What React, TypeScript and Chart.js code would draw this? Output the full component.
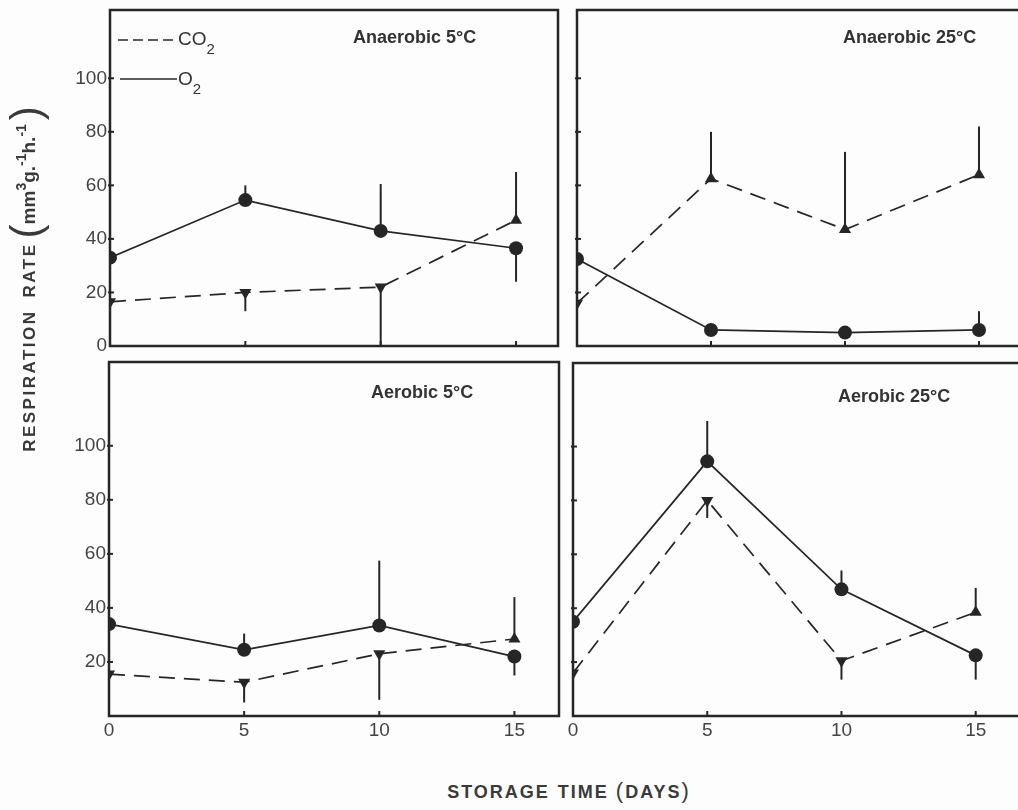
import React, { useEffect, useRef } from "react";
import { Chart, registerables } from "chart.js";

Chart.register(...registerables);

// ---------------- data ----------------
const days = [0, 5, 10, 15];
const xTickValues = [0, 5, 10, 15];
const yTickValuesTop = [0, 20, 40, 60, 80, 100];
const yTickValuesBottom = [20, 40, 60, 80, 100];

const anaerobic5O2 = [33, 54.5, 43, 36.5];
const anaerobic5O2Err = [41, 60, 60.5, 24];
const anaerobic5CO2 = [16.5, 20, 22, 47];
const anaerobic5CO2Err = [6, 13, 0, 65];

const anaerobic25O2 = [32.5, 6, 5, 6];
const anaerobic25O2Err = [38, null, null, 13];
const anaerobic25CO2 = [16, 62.5, 43.5, 64];
const anaerobic25CO2Err = [11, 80, 72.5, 82];

const aerobic5O2 = [34, 24.5, 33.5, 22];
const aerobic5O2Err = [39, 30.5, 57.5, 15];
const aerobic5CO2 = [15.5, 12.5, 23, 28.5];
const aerobic5CO2Err = [7, 5, 6, 44];

const aerobic25O2 = [35, 94.5, 47, 22.5];
const aerobic25O2Err = [40, 109.5, 54, 13.5];
const aerobic25CO2 = [16, 80, 20.5, 38.5];
const aerobic25CO2Err = [7, 73.5, 13.5, 47.5];

const panelTitles = ["Anaerobic 5°C", "Anaerobic 25°C", "Aerobic 5°C", "Aerobic 25°C"];

// ---------------- style ----------------
const INK = "#262626";
const TEXT = "#3c3c3c";
const TICK_FONT = "'Liberation Sans Narrow', 'Liberation Sans', Arial, sans-serif";
const SANS = "'Liberation Sans', Arial, sans-serif";

type Panel = {
  title: string;
  o2: number[];
  o2Err: (number | null)[];
  co2: number[];
  co2Err: (number | null)[];
  yMax: number;
  xMax: number;
  yTicks: number[];
  showY: boolean;
  showX: boolean;
  box: { left: number; top: number; w: number; h: number };
  pad: { top: number; right: number };
  yWidth: number;
  xHeight: number;
  titleDx: number;
  titleDy: number;
};

const panels: Panel[] = [
  {
    title: panelTitles[0], o2: anaerobic5O2, o2Err: anaerobic5O2Err, co2: anaerobic5CO2, co2Err: anaerobic5CO2Err,
    yMax: 125.5, xMax: 16.55, yTicks: yTickValuesTop, showY: true, showX: false,
    box: { left: 0, top: 0, w: 570, h: 365 }, pad: { top: 10, right: 12 }, yWidth: 110, xHeight: 19,
    titleDx: 243, titleDy: 33,
  },
  {
    title: panelTitles[1], o2: anaerobic25O2, o2Err: anaerobic25O2Err, co2: anaerobic25CO2, co2Err: anaerobic25CO2Err,
    yMax: 125.5, xMax: 16.53, yTicks: yTickValuesTop, showY: false, showX: false,
    box: { left: 560, top: 0, w: 470, h: 365 }, pad: { top: 10, right: 10 }, yWidth: 17, xHeight: 19,
    titleDx: 266, titleDy: 33,
  },
  {
    title: panelTitles[2], o2: aerobic5O2, o2Err: aerobic5O2Err, co2: aerobic5CO2, co2Err: aerobic5CO2Err,
    yMax: 131, xMax: 16.65, yTicks: yTickValuesBottom, showY: true, showX: true,
    box: { left: 0, top: 350, w: 570, h: 410 }, pad: { top: 12, right: 11 }, yWidth: 109, xHeight: 44,
    titleDx: 262, titleDy: 36,
  },
  {
    title: panelTitles[3], o2: aerobic25O2, o2Err: aerobic25O2Err, co2: aerobic25CO2, co2Err: aerobic25CO2Err,
    yMax: 131, xMax: 16.65, yTicks: yTickValuesBottom, showY: false, showX: true,
    box: { left: 555, top: 350, w: 475, h: 410 }, pad: { top: 13, right: 10 }, yWidth: 18, xHeight: 44,
    titleDx: 265, titleDy: 39,
  },
];

const panelPlugin = {
  id: "panelDecor",
  afterDatasetsDraw(chart: any) {
    const { ctx, chartArea: a, scales } = chart;
    const xs = scales.x;
    const ys = scales.y;
    const p: Panel = chart.options.plugins.panelDecor.panel;
    ctx.save();
    // error bars
    ctx.strokeStyle = INK;
    ctx.lineWidth = 2;
    const drawErr = (vals: number[], errs: (number | null)[]) => {
      vals.forEach((v, i) => {
        const e = errs[i];
        if (e === null || e === undefined) return;
        const x = xs.getPixelForValue(days[i]);
        ctx.beginPath();
        ctx.moveTo(x, ys.getPixelForValue(v));
        ctx.lineTo(x, ys.getPixelForValue(e));
        ctx.stroke();
      });
    };
    drawErr(p.o2, p.o2Err);
    drawErr(p.co2, p.co2Err);
    // frame
    ctx.lineWidth = 2.5;
    ctx.strokeRect(a.left, a.top, a.right - a.left, a.bottom - a.top);
    // inward tick marks
    ctx.lineWidth = 2;
    xTickValues.forEach((v) => {
      if (v === 0) return;
      const x = xs.getPixelForValue(v);
      ctx.beginPath();
      ctx.moveTo(x, a.bottom);
      ctx.lineTo(x, a.bottom - 5);
      ctx.stroke();
    });
    yTickValuesTop.forEach((v) => {
      if (v === 0) return;
      const y = ys.getPixelForValue(v);
      ctx.beginPath();
      ctx.moveTo(a.left - 2, y);
      ctx.lineTo(a.left + 4, y);
      ctx.stroke();
    });
    // panel title
    ctx.fillStyle = "#333";
    ctx.font = `bold 18px ${SANS}`;
    ctx.textAlign = "left";
    ctx.textBaseline = "alphabetic";
    ctx.fillText(p.title, a.left + p.titleDx, a.top + p.titleDy);
    ctx.restore();
  },
};

function PanelChart({ p }: { p: Panel }) {
  const ref = useRef<HTMLCanvasElement | null>(null);
  useEffect(() => {
    if (!ref.current) return;
    const tickFont = { family: TICK_FONT, size: 19 };
    const chart = new Chart(ref.current, {
      type: "line",
      data: {
        datasets: [
          {
            label: "O2",
            data: days.map((d, i) => ({ x: d, y: p.o2[i] })),
            borderColor: INK,
            borderWidth: 1.7,
            pointStyle: "circle",
            pointRadius: 7,
            pointBackgroundColor: INK,
            pointBorderColor: INK,
            pointBorderWidth: 0,
            tension: 0,
          },
          {
            label: "CO2",
            data: days.map((d, i) => ({ x: d, y: p.co2[i] })),
            borderColor: INK,
            borderWidth: 1.7,
            borderDash: [16, 9],
            pointStyle: "triangle",
            pointRadius: 7,
            rotation: p.co2.map((v, i) => {
              const e = p.co2Err[i];
              return e !== null && e < v ? 180 : 0;
            }),
            pointBackgroundColor: INK,
            pointBorderColor: INK,
            pointBorderWidth: 0,
            tension: 0,
          },
        ],
      },
      options: {
        animation: false,
        responsive: false,
        devicePixelRatio: 1,
        layout: { padding: { left: 0, top: p.pad.top, right: p.pad.right, bottom: 0 } },
        plugins: {
          legend: { display: false },
          tooltip: { enabled: false },
          // @ts-ignore
          panelDecor: { panel: p },
        },
        scales: {
          x: {
            type: "linear",
            min: 0,
            max: p.xMax,
            grid: { display: false, drawTicks: false },
            border: { display: false },
            ticks: { display: p.showX, font: tickFont, color: "#444", padding: 3, maxRotation: 0 },
            afterBuildTicks: (s: any) => {
              s.ticks = xTickValues.map((v) => ({ value: v }));
            },
            afterFit: (s: any) => {
              s.height = p.xHeight;
              s.paddingLeft = 0;
              s.paddingRight = 0;
            },
          },
          y: {
            type: "linear",
            min: 0,
            max: p.yMax,
            grid: { display: false, drawTicks: false },
            border: { display: false },
            ticks: { display: p.showY, font: tickFont, color: "#444", padding: 3 },
            afterBuildTicks: (s: any) => {
              s.ticks = p.yTicks.map((v) => ({ value: v }));
            },
            afterFit: (s: any) => {
              s.width = p.yWidth;
              s.paddingTop = 0;
              s.paddingBottom = 0;
            },
          },
        },
      } as any,
      plugins: [panelPlugin],
    });
    return () => chart.destroy();
  }, [p]);
  return (
    <canvas
      ref={ref}
      width={p.box.w}
      height={p.box.h}
      style={{ position: "absolute", left: p.box.left, top: p.box.top, width: p.box.w, height: p.box.h }}
    />
  );
}

export default function App() {
  const sup: React.CSSProperties = { fontSize: 14, verticalAlign: "9px", lineHeight: 0 };
  const paren: React.CSSProperties = { fontSize: 42, fontWeight: 300, verticalAlign: "-5px", lineHeight: 0 };
  return (
    <div
      style={{
        position: "absolute",
        left: 0,
        top: 0,
        width: 1018,
        height: 810,
        overflow: "hidden",
        background: "#fdfdfd",
        fontFamily: SANS,
        color: TEXT,
      }}
    >
      {panels.map((p, i) => (
        <PanelChart key={i} p={p} />
      ))}

      {/* legend */}
      <svg style={{ position: "absolute", left: 0, top: 0 }} width={200} height={110}>
        <line x1={118} y1={40} x2={177} y2={40} stroke={INK} strokeWidth={1.7} strokeDasharray="10 5" />
        <line x1={120} y1={79} x2={177} y2={79} stroke={INK} strokeWidth={1.7} />
      </svg>
      <div style={{ position: "absolute", left: 178, top: 28, fontSize: 19, lineHeight: "22px", color: "#333" }}>
        CO<span style={{ fontSize: 15, position: "relative", top: 9 }}>2</span>
      </div>
      <div style={{ position: "absolute", left: 178, top: 68, fontSize: 19, lineHeight: "22px", color: "#333" }}>
        O<span style={{ fontSize: 15, position: "relative", top: 9 }}>2</span>
      </div>

      {/* y-axis title */}
      <div
        style={{
          position: "absolute",
          left: 29 - 200,
          top: 279 - 20,
          width: 400,
          height: 40,
          lineHeight: "40px",
          textAlign: "center",
          transform: "rotate(-90deg)",
          transformOrigin: "50% 50%",
          whiteSpace: "nowrap",
          fontSize: 17,
          fontWeight: 700,
          color: "#3a3a3a",
        }}
      >
        <span style={{ letterSpacing: "2.5px" }}>RESPIRATION</span>
        <span style={{ display: "inline-block", width: 12 }} />
        <span style={{ letterSpacing: "2.5px" }}>RATE</span>
        <span style={{ display: "inline-block", width: 4 }} />
        <span style={paren}>(</span>
        <span style={{ fontSize: 19 }}>
          mm<span style={sup}>3</span>g.<span style={sup}>-1</span>h.<span style={sup}>-1</span>
        </span>
        <span style={{ display: "inline-block", width: 4 }} />
        <span style={paren}>)</span>
      </div>

      {/* x-axis title */}
      <div
        style={{
          position: "absolute",
          left: 369,
          top: 778,
          width: 400,
          textAlign: "center",
          fontSize: 18,
          fontWeight: 700,
          letterSpacing: "2px",
          whiteSpace: "nowrap",
          color: "#3a3a3a",
        }}
      >
        STORAGE<span style={{ display: "inline-block", width: 8 }} />TIME{" "}
        <span style={{ fontWeight: 400, fontSize: 22 }}>(</span>DAYS<span style={{ fontWeight: 400, fontSize: 22 }}>)</span>
      </div>
    </div>
  );
}
